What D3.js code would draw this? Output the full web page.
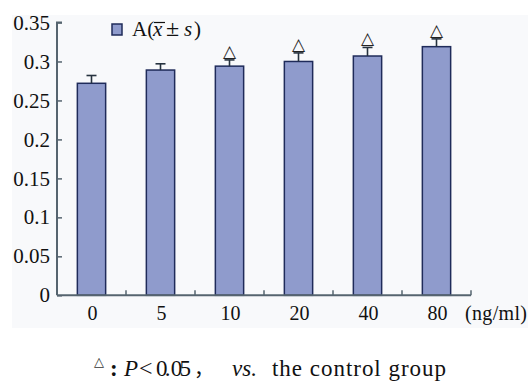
<!DOCTYPE html>
<html><head><meta charset="utf-8">
<script src="https://cdn.jsdelivr.net/npm/d3@7"></script>
<style>
html,body{margin:0;padding:0;background:#fff;}
svg{display:block;}
</style></head>
<body>
<svg id="c" width="530" height="383"></svg>
<script>
const categories = ["0","5","10","20","40","80"];
const means = [0.272, 0.289, 0.294, 0.300, 0.307, 0.319];
const sds = [0.010, 0.008, 0.008, 0.011, 0.011, 0.010];
const significant = [false, false, true, true, true, true];
const yTicks = [0, 0.05, 0.1, 0.15, 0.2, 0.25, 0.3, 0.35];
const yTickLabels = ["0","0.05","0.1","0.15","0.2","0.25","0.3","0.35"];
const unitLabel = "(ng/ml)";

const SERIF = "'Liberation Serif', 'DejaVu Serif', serif";
const svg = d3.select("#c");
const barFill = "#8f9bcc", barStroke = "#1f2b5a", axisColor = "#56646f";

svg.append("rect").attr("x",12).attr("y",15).attr("width",516).attr("height",313).attr("fill","#f8f9fb");

const y = d3.scaleLinear().domain([0,0.35]).range([295.3,22.5]);
const x = d3.scaleBand().domain(categories).range([57,471]).paddingInner(0.59).paddingOuter(0.295);
const step = x.step();

// y axis
const yAxis = svg.append("g").attr("transform","translate(57,0)")
  .call(d3.axisRight(y).tickValues(yTicks).tickSize(5).tickFormat(""));
yAxis.select(".domain").attr("d",`M5,${y(0.35)}H0V${y(0)}`).attr("stroke",axisColor).attr("stroke-width",2).attr("fill","none");
yAxis.selectAll(".tick line").attr("stroke",axisColor).attr("stroke-width",1.5);
svg.append("g").selectAll("text").data(yTicks).join("text")
  .style("font-family",SERIF).attr("fill","#111")
  .attr("x",50).attr("y",d=>y(d)).attr("dy","0.34em").attr("text-anchor","end")
  .attr("font-size",21).text((d,i)=>yTickLabels[i]);

// bars
svg.append("g").selectAll("rect").data(means).join("rect")
  .attr("x",(d,i)=>x(categories[i])).attr("width",x.bandwidth())
  .attr("y",d=>y(d)).attr("height",d=>y(0)-y(d))
  .attr("fill",barFill).attr("stroke",barStroke).attr("stroke-width",1.5);

// error bars
const eb = svg.append("g").attr("stroke","#26323f").attr("stroke-width",1.6);
means.forEach((m,i)=>{
  const cx = x(categories[i]) + x.bandwidth()/2;
  eb.append("line").attr("x1",cx).attr("x2",cx).attr("y1",y(m)).attr("y2",y(m+sds[i]));
  eb.append("line").attr("x1",cx-5).attr("x2",cx+5).attr("y1",y(m+sds[i])).attr("y2",y(m+sds[i]));
});

// significance marks
svg.append("g").selectAll("text").data(means.map((m,i)=>({m,i})).filter(d=>significant[d.i])).join("text")
  .attr("x",d=>x(categories[d.i])+x.bandwidth()/2).attr("y",d=>y(d.m+sds[d.i])-3)
  .attr("text-anchor","middle").attr("font-size",17).attr("fill","#222")
  .style("font-family","'DejaVu Sans',sans-serif").text("△");

// x axis
const xa = svg.append("g");
xa.append("line").attr("x1",57).attr("x2",471).attr("y1",y(0)).attr("y2",y(0)).attr("stroke",axisColor).attr("stroke-width",2);
xa.selectAll("line.t").data(d3.range(1,categories.length+1)).join("line").attr("class","t")
  .attr("x1",d=>57+d*step).attr("x2",d=>57+d*step).attr("y1",y(0)).attr("y2",y(0)-5)
  .attr("stroke",axisColor).attr("stroke-width",1.5);
svg.append("g").selectAll("text").data(categories).join("text")
  .style("font-family",SERIF).attr("fill","#111")
  .attr("x",d=>x(d)+x.bandwidth()/2+1).attr("y",320).attr("text-anchor","middle")
  .attr("font-size",20).text(d=>d);
svg.append("text").style("font-family",SERIF).attr("fill","#111")
  .attr("x",465).attr("y",320).attr("font-size",20).attr("textLength",62).text(unitLabel);

// legend
svg.append("rect").attr("x",112).attr("y",24).attr("width",10).attr("height",11)
  .attr("fill",barFill).attr("stroke",barStroke).attr("stroke-width",1.5);
const lt = svg.append("text").style("font-family",SERIF).attr("fill","#111")
  .attr("x",132).attr("y",36).attr("font-size",21);
lt.append("tspan").attr("x",132).text("A(");
lt.append("tspan").attr("x",153).attr("font-style","italic").text("x");
lt.append("tspan").attr("x",166).attr("font-size",24).text("±");
lt.append("tspan").attr("x",184).attr("font-style","italic").text("s");
lt.append("tspan").attr("x",194).text(")");
svg.append("line").attr("x1",154).attr("x2",165).attr("y1",22.5).attr("y2",22.5).attr("stroke","#111").attr("stroke-width",1.2);

// footnote
svg.append("text").style("font-family","'DejaVu Sans',sans-serif").attr("fill","#333")
  .attr("x",94).attr("y",366).attr("font-size",13).text("△");
const ft = svg.append("text").style("font-family",SERIF).attr("fill","#111")
  .attr("y",376).attr("font-size",23);
ft.append("tspan").attr("x",110).attr("font-weight","bold").text(":");
ft.append("tspan").attr("x",124).attr("font-style","italic").text("P");
ft.append("tspan").attr("x",139).attr("font-size",24).text("<");
ft.append("tspan").attr("x",156).attr("textLength",35).text("0. 05");
ft.append("tspan").attr("x",194).style("font-family","'Noto Sans CJK SC',sans-serif").attr("font-size",20).text("，");
ft.append("tspan").attr("x",232).attr("font-style","italic").text("vs.");
ft.append("tspan").attr("x",272).attr("textLength",174).text("the control group");
</script>
</body></html>
